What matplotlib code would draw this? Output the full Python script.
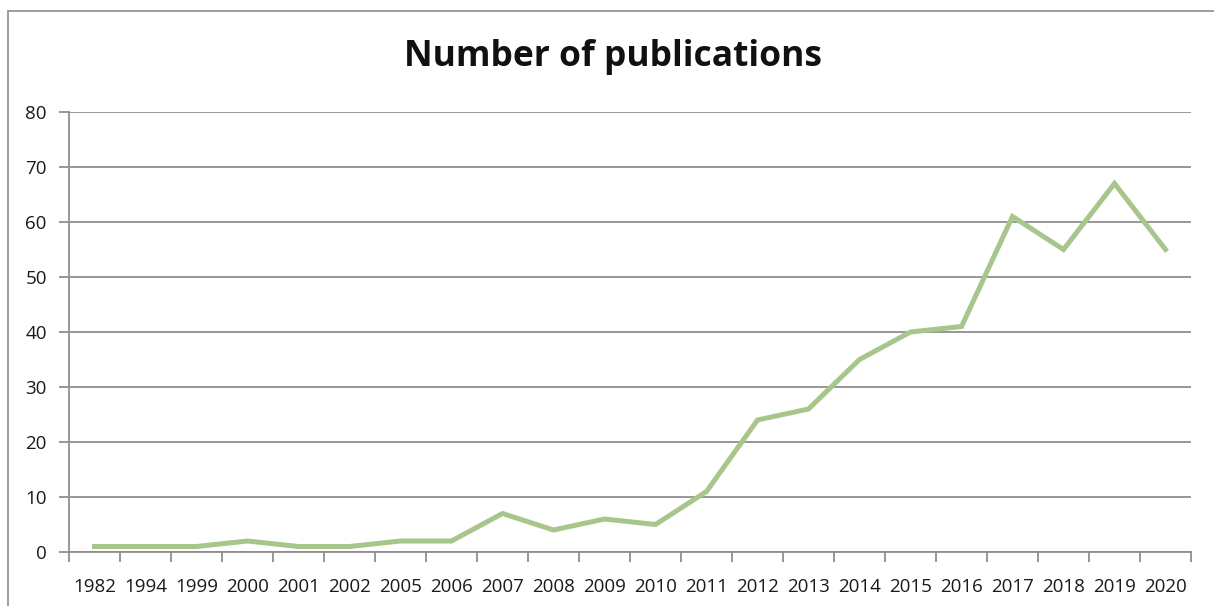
import matplotlib
matplotlib.use("Agg")
import matplotlib.pyplot as plt
from matplotlib.patches import Rectangle

# ----- DATA -----
years = ["1982", "1994", "1999", "2000", "2001", "2002", "2005", "2006", "2007", "2008", "2009",
         "2010", "2011", "2012", "2013", "2014", "2015", "2016", "2017", "2018", "2019", "2020"]
publications = [1, 1, 1, 2, 1, 1, 2, 2, 7, 4, 6, 5, 11, 24, 26, 35, 40, 41, 61, 55, 67, 55]
y_ticks = [0, 10, 20, 30, 40, 50, 60, 70, 80]

# ----- STYLE -----
grid_color = "#8f8f8f"
line_color = "#a8c68b"
plt.rcParams["font.family"] = ["Open Sans", "DejaVu Sans"]

W, H = 1214, 606
fig = plt.figure(figsize=(W / 100, H / 100), dpi=100)

# outer chart frame (only left/top visible in the crop)
fig.patches.append(Rectangle((8 / W, -0.1), 1.2, 1 - 11 / H + 0.1, transform=fig.transFigure,
                             fill=False, edgecolor="#8c8c8c", linewidth=1.2))

ax = fig.add_axes([69 / W, 1 - 552 / H, (1191 - 69) / W, (552 - 112) / H])

x = list(range(len(years)))
ax.plot(x, publications, color=line_color, linewidth=3.6, solid_joinstyle="miter", zorder=3)

ax.set_xlim(-0.5, len(years) - 0.5)
ax.set_ylim(0, 80)
ax.set_yticks(y_ticks)
ax.set_yticklabels([str(v) for v in y_ticks])
ax.yaxis.grid(True, color=grid_color, linewidth=1.3)
ax.set_axisbelow(True)

# excel style: ticks between categories, labels centred
ax.set_xticks([i - 0.5 for i in range(len(years) + 1)])
ax.set_xticklabels([])
ax.set_xticks(x, minor=True)
ax.set_xticklabels(years, minor=True)
ax.tick_params(axis="x", which="major", length=7, width=1.3, color=grid_color, direction="out")
ax.tick_params(axis="x", which="minor", length=0, pad=19, labelsize=13.5, labelcolor="#1a1a1a")
ax.tick_params(axis="y", length=7, width=1.3, color=grid_color, pad=9, labelsize=13.5,
               labelcolor="#1a1a1a")

for side in ["top", "right"]:
    ax.spines[side].set_visible(False)
for side in ["left", "bottom"]:
    ax.spines[side].set_color(grid_color)
    ax.spines[side].set_linewidth(1.3)

fig.text(613 / W, 1 - 57 / H, "Number of publications", ha="center", va="center",
         fontsize=25.5, fontweight="bold", color="#111111")

fig.savefig("out.png", dpi=100)
